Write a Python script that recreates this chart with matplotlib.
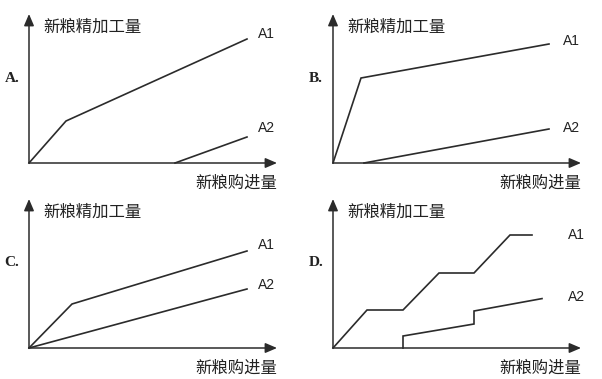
import matplotlib
matplotlib.use("Agg")
import matplotlib.pyplot as plt

plt.rcParams['font.family'] = ['Noto Sans CJK SC', 'DejaVu Sans']

# ---- data (arbitrary units, 1 unit ~ 20 px) ----
panel_labels = ["A.", "B.", "C.", "D."]
y_label = "新粮精加工量"
x_label = "新粮购进量"
series_names = ["A1", "A2"]

a_A1_x = [0, 1.85, 10.9]
a_A1_y = [0, 2.1, 6.2]
a_A2_x = [7.3, 10.9]
a_A2_y = [0, 1.3]

b_A1_x = [0, 1.4, 10.8]
b_A1_y = [0, 4.25, 5.95]
b_A2_x = [1.55, 10.8]
b_A2_y = [0, 1.7]

c_A1_x = [0, 2.15, 10.9]
c_A1_y = [0, 2.2, 4.85]
c_A2_x = [0, 10.9]
c_A2_y = [0, 2.95]

d_A1_x = [0, 1.7, 3.5, 5.3, 7.05, 8.85, 9.95]
d_A1_y = [0, 1.9, 1.9, 3.75, 3.75, 5.65, 5.65]
d_A2_x = [3.5, 3.5, 7.05, 7.05, 10.45]
d_A2_y = [0, 0.6, 1.2, 1.85, 2.47]

panels = [
    (a_A1_x, a_A1_y, a_A2_x, a_A2_y),
    (b_A1_x, b_A1_y, b_A2_x, b_A2_y),
    (c_A1_x, c_A1_y, c_A2_x, c_A2_y),
    (d_A1_x, d_A1_y, d_A2_x, d_A2_y),
]

W, H = 602, 379
fig = plt.figure(figsize=(W / 100, H / 100), dpi=100)
fig.patch.set_facecolor("white")

# origin pixel positions (x, y from top) for each panel
origins = [(29, 163), (333, 163), (29, 348), (333, 348)]
ax_w, ax_h = 248, 149
XMAX, YMAX = 12.4, 7.45
col = "#2b2b2b"
tcol = "#222222"

# series label positions: (x px from origin, y px above origin)
label_pos = [
    [(229, 129), (229, 35)],
    [(230, 122), (230, 35)],
    [(229, 103), (229, 63)],
    [(235, 113), (235, 51)],
]

for i, (ox, oy) in enumerate(origins):
    ax = fig.add_axes([ox / W, (H - oy) / H, ax_w / W, ax_h / H])
    ax.set_xlim(0, XMAX)
    ax.set_ylim(0, YMAX)
    ax.axis("off")
    ax.patch.set_alpha(0)
    x1, y1, x2, y2 = panels[i]
    ax.plot(x1, y1, color=col, lw=1.2, solid_joinstyle="miter", clip_on=False)
    ax.plot(x2, y2, color=col, lw=1.2, solid_joinstyle="miter", clip_on=False)
    arrow = dict(arrowstyle="-|>,head_length=0.7,head_width=0.3", color=col, lw=1.1,
                 shrinkA=0, shrinkB=0)
    ax.annotate("", xy=(1, 0), xytext=(0, 0), xycoords="axes fraction",
                textcoords="axes fraction", arrowprops=arrow)
    ax.annotate("", xy=(0, 1), xytext=(0, 0), xycoords="axes fraction",
                textcoords="axes fraction", arrowprops=arrow)
    # axis titles
    ax.text(14 / ax_w, (ax_h - 13) / ax_h, y_label, transform=ax.transAxes,
            fontsize=11.8, color=tcol, ha="left", va="center")
    ax.text(1.0, -20 / ax_h, x_label, transform=ax.transAxes,
            fontsize=11.8, color=tcol, ha="right", va="center")
    # panel letter
    ax.text(-17 / ax_w, 85 / ax_h, panel_labels[i], transform=ax.transAxes,
            fontsize=11, fontweight="bold", family=["Liberation Serif"],
            color=tcol, ha="center", va="center")
    # series labels
    for name, (lx, ly) in zip(series_names, label_pos[i]):
        ax.text(lx / ax_w, ly / ax_h, name, transform=ax.transAxes,
                fontsize=10, family=["Liberation Sans"], color=tcol,
                ha="left", va="center")

fig.savefig("out.png", dpi=100, facecolor="white")
